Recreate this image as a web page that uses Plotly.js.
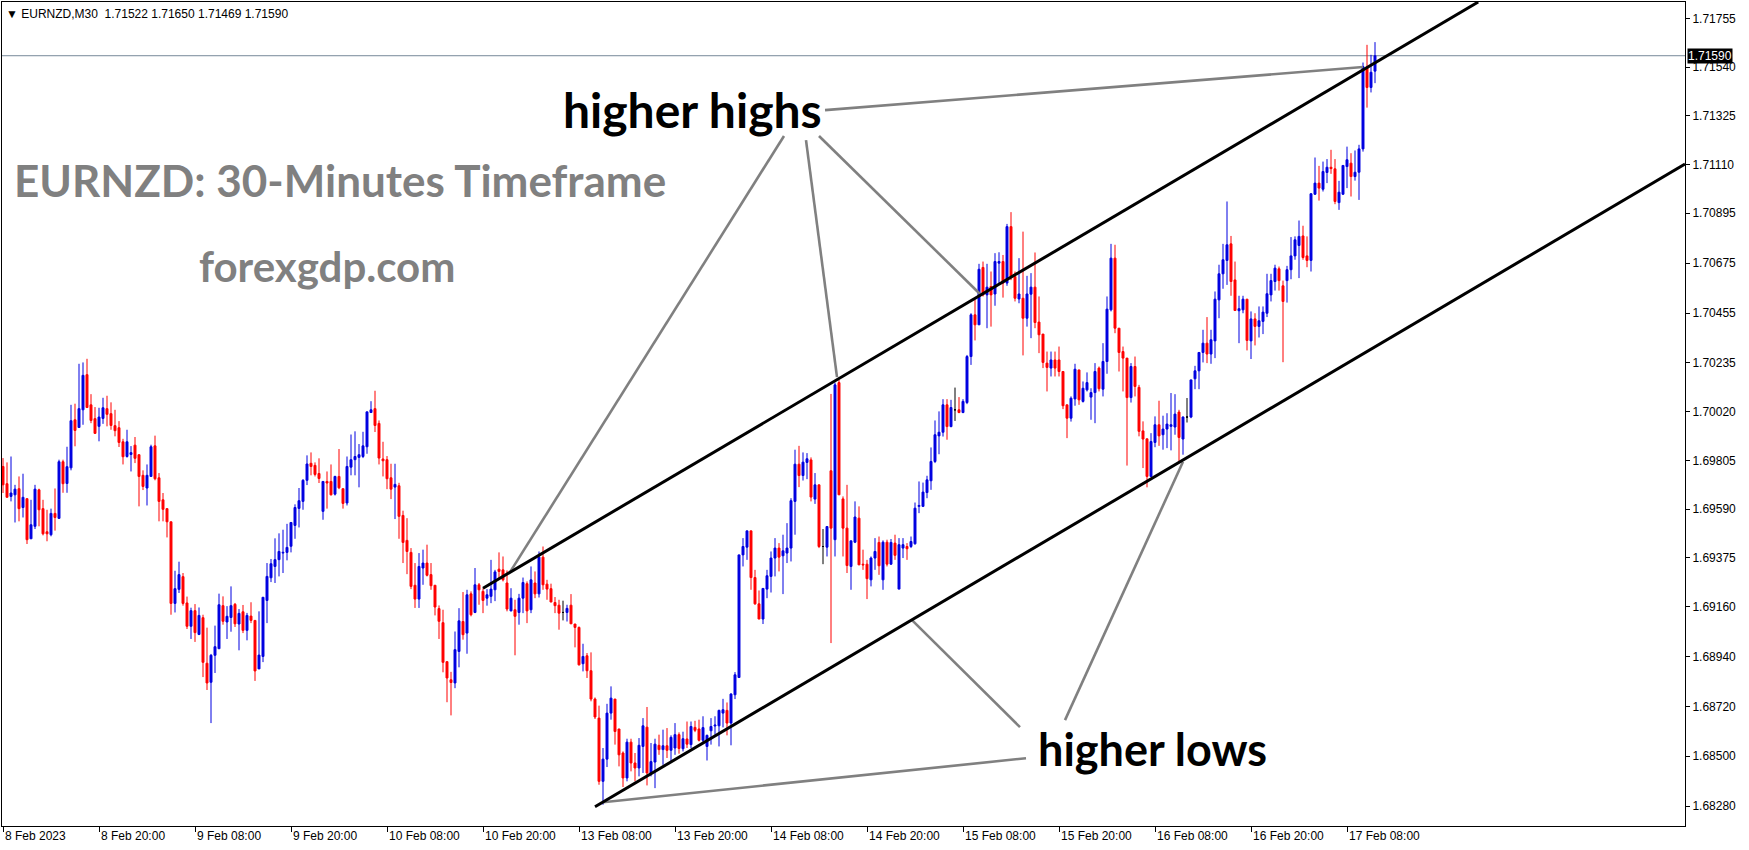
<!DOCTYPE html>
<html><head><meta charset="utf-8">
<script src="https://cdn.plot.ly/plotly-3.0.1.min.js"></script>
<style>html,body{margin:0;padding:0;background:#fff;}#chart{width:1749px;height:850px;}</style>
</head><body><div id="chart"></div>
<script>
const symbolHeader = "EURNZD,M30";

const openP = [
1.69778,1.69702,1.69646,1.69653,1.69680,1.69597,1.69636,1.69459,1.69514,1.69675,
1.69592,1.69490,1.69477,1.69571,1.69549,1.69799,1.69703,1.69772,1.69984,1.69950,
1.70028,1.70183,1.70050,1.69989,1.69955,1.69990,1.70033,1.70011,1.69958,1.69949,
1.69887,1.69822,1.69831,1.69872,1.69830,1.69739,1.69683,1.69734,1.69869,1.69728,
1.69631,1.69592,1.69534,1.69174,1.69236,1.69292,1.69176,1.69073,1.69142,1.69037,
1.69111,1.68910,1.68826,1.68945,1.68974,1.69164,1.69092,1.69112,1.69170,1.69083,
1.69137,1.69055,1.69118,1.69099,1.68885,1.68940,1.69187,1.69287,1.69337,1.69367,
1.69396,1.69399,1.69426,1.69518,1.69593,1.69624,1.69717,1.69792,1.69783,1.69747,
1.69580,1.69712,1.69712,1.69656,1.69734,1.69680,1.69617,1.69775,1.69808,1.69818,
1.69822,1.69865,1.70016,1.70033,1.69968,1.69811,1.69808,1.69728,1.69687,1.69693,
1.69562,1.69452,1.69399,1.69254,1.69193,1.69330,1.69352,1.69301,1.69254,1.69151,
1.69089,1.68917,1.68837,1.68823,1.68962,1.69094,1.69043,1.69216,1.69134,1.69256,
1.69227,1.69197,1.69205,1.69234,1.69325,1.69322,1.69264,1.69141,1.69146,1.69134,
1.69197,1.69261,1.69146,1.69264,1.69216,1.69378,1.69259,1.69239,1.69178,1.69166,
1.69134,1.69134,1.69166,1.69083,1.69068,1.68908,1.68943,1.68877,1.68752,1.68668,
1.68389,1.68487,1.68690,1.68752,1.68620,1.68514,1.68404,1.68562,1.68470,1.68448,
1.68543,1.68628,1.68423,1.68474,1.68548,1.68529,1.68546,1.68526,1.68536,1.68595,
1.68533,1.68576,1.68551,1.68627,1.68620,1.68570,1.68543,1.68612,1.68633,1.68634,
1.68690,1.68702,1.68646,1.68771,1.68847,1.69388,1.69422,1.69494,1.69288,1.69172,
1.69105,1.69237,1.69293,1.69374,1.69418,1.69384,1.69396,1.69418,1.69624,1.69788,
1.69738,1.69796,1.69807,1.69634,1.69697,1.69425,1.69422,1.69759,1.69455,1.70148,
1.69635,1.69506,1.69337,1.69444,1.69550,1.69347,1.69347,1.69278,1.69374,1.69443,
1.69278,1.69444,1.69347,1.69440,1.69237,1.69418,1.69425,1.69425,1.69437,1.69602,
1.69602,1.69663,1.69715,1.69800,1.69913,1.69929,1.70050,1.69954,1.70028,1.70028,
1.70016,1.70060,1.70263,1.70447,1.70403,1.70656,1.70535,1.70572,1.70539,1.70675,
1.70682,1.70587,1.70836,1.70616,1.70517,1.70520,1.70432,1.70538,1.70569,1.70415,
1.70362,1.70234,1.70212,1.70248,1.70248,1.70197,1.70050,1.69991,1.70076,1.70204,
1.70065,1.70116,1.70084,1.70104,1.70212,1.70119,1.70241,1.70469,1.70697,1.70388,
1.70285,1.70256,1.70082,1.70219,1.70127,1.69935,1.69900,1.69734,1.69884,1.69962,
1.69918,1.69943,1.69955,1.69952,1.70018,1.69899,1.69996,1.69996,1.70165,1.70200,
1.70281,1.70322,1.70274,1.70332,1.70513,1.70628,1.70687,1.70760,1.70601,1.70465,
1.70469,1.70516,1.70332,1.70429,1.70396,1.70418,1.70454,1.70535,1.70594,1.70650,
1.70575,1.70598,1.70646,1.70707,1.70753,1.70795,1.70707,1.70687,1.70979,1.71028,
1.71001,1.71075,1.71098,1.71091,1.70942,1.70979,1.71101,1.71116,1.71057,1.71076,
1.71179,1.71539,1.71450,1.71522];

const highP = [
1.69815,1.69796,1.69822,1.69697,1.69734,1.69746,1.69636,1.69631,1.69697,1.69680,
1.69631,1.69587,1.69592,1.69681,1.69808,1.69808,1.69865,1.70050,1.70055,1.70231,
1.70237,1.70253,1.70097,1.70040,1.70037,1.70081,1.70090,1.70061,1.70028,1.69978,
1.69900,1.69940,1.69868,1.69908,1.69830,1.69761,1.69787,1.69874,1.69914,1.69749,
1.69661,1.69592,1.69534,1.69318,1.69358,1.69308,1.69204,1.69155,1.69171,1.69156,
1.69124,1.69067,1.68951,1.69076,1.69217,1.69205,1.69162,1.69249,1.69176,1.69149,
1.69167,1.69132,1.69179,1.69099,1.69139,1.69201,1.69352,1.69370,1.69461,1.69483,
1.69499,1.69525,1.69531,1.69611,1.69683,1.69722,1.69827,1.69840,1.69796,1.69814,
1.69712,1.69756,1.69787,1.69737,1.69855,1.69680,1.69822,1.69919,1.69933,1.69877,
1.69931,1.70019,1.70066,1.70112,1.69981,1.69887,1.69824,1.69790,1.69790,1.69706,
1.69583,1.69550,1.69418,1.69352,1.69396,1.69411,1.69433,1.69352,1.69254,1.69165,
1.69146,1.68917,1.68872,1.69050,1.69153,1.69224,1.69234,1.69227,1.69330,1.69264,
1.69241,1.69237,1.69366,1.69322,1.69399,1.69381,1.69319,1.69241,1.69190,1.69216,
1.69288,1.69271,1.69337,1.69315,1.69403,1.69425,1.69278,1.69261,1.69202,1.69190,
1.69186,1.69168,1.69215,1.69083,1.69072,1.68996,1.68955,1.68958,1.68759,1.68723,
1.68536,1.68731,1.68808,1.68752,1.68620,1.68521,1.68577,1.68577,1.68514,1.68580,
1.68668,1.68717,1.68558,1.68577,1.68595,1.68617,1.68624,1.68592,1.68646,1.68605,
1.68608,1.68653,1.68653,1.68656,1.68661,1.68676,1.68595,1.68668,1.68676,1.68705,
1.68753,1.68737,1.68778,1.68871,1.69388,1.69462,1.69494,1.69494,1.69322,1.69231,
1.69240,1.69322,1.69403,1.69462,1.69440,1.69477,1.69528,1.69638,1.69852,1.69869,
1.69840,1.69837,1.69818,1.69749,1.69697,1.69502,1.69513,1.70098,1.70148,1.70160,
1.69646,1.69697,1.69450,1.69624,1.69602,1.69411,1.69366,1.69381,1.69462,1.69469,
1.69452,1.69455,1.69458,1.69477,1.69462,1.69462,1.69440,1.69469,1.69619,1.69712,
1.69707,1.69737,1.69862,1.69981,1.70021,1.70075,1.70075,1.70072,1.70126,1.70084,
1.70075,1.70270,1.70454,1.70513,1.70672,1.70682,1.70672,1.70638,1.70719,1.70723,
1.70711,1.70848,1.70900,1.70638,1.70697,1.70814,1.70619,1.70631,1.70722,1.70528,
1.70362,1.70285,1.70285,1.70285,1.70307,1.70197,1.70050,1.70087,1.70231,1.70204,
1.70153,1.70193,1.70123,1.70234,1.70219,1.70322,1.70528,1.70760,1.70756,1.70388,
1.70307,1.70256,1.70234,1.70263,1.70138,1.69977,1.69900,1.69925,1.69999,1.70068,
1.70002,1.70013,1.70102,1.70097,1.70028,1.69999,1.70080,1.70160,1.70222,1.70281,
1.70381,1.70437,1.70381,1.70550,1.70668,1.70760,1.70947,1.70795,1.70682,1.70531,
1.70531,1.70516,1.70462,1.70454,1.70484,1.70484,1.70628,1.70628,1.70668,1.70660,
1.70598,1.70663,1.70790,1.70793,1.70863,1.70840,1.70793,1.70984,1.71141,1.71104,
1.71123,1.71134,1.71175,1.71134,1.71038,1.71106,1.71189,1.71160,1.71172,1.71197,
1.71560,1.71638,1.71594,1.71650];

const lowP = [
1.69661,1.69642,1.69624,1.69531,1.69536,1.69553,1.69436,1.69459,1.69502,1.69514,
1.69474,1.69448,1.69470,1.69495,1.69549,1.69662,1.69662,1.69761,1.69867,1.69950,
1.69962,1.70036,1.69969,1.69924,1.69889,1.69966,1.69955,1.69940,1.69911,1.69864,
1.69787,1.69817,1.69756,1.69793,1.69602,1.69674,1.69606,1.69734,1.69717,1.69536,
1.69536,1.69465,1.69124,1.69134,1.69220,1.69164,1.69061,1.69017,1.69004,1.69034,
1.68849,1.68792,1.68646,1.68867,1.68974,1.69080,1.69017,1.69049,1.69070,1.68967,
1.69043,1.69011,1.69087,1.68832,1.68885,1.68915,1.69087,1.69268,1.69264,1.69293,
1.69308,1.69364,1.69399,1.69459,1.69509,1.69587,1.69696,1.69739,1.69734,1.69705,
1.69543,1.69592,1.69650,1.69650,1.69678,1.69592,1.69606,1.69739,1.69739,1.69686,
1.69815,1.69834,1.70014,1.69930,1.69787,1.69734,1.69678,1.69634,1.69546,1.69459,
1.69352,1.69303,1.69237,1.69154,1.69154,1.69256,1.69293,1.69234,1.69121,1.69017,
1.68870,1.68738,1.68680,1.68800,1.68892,1.69014,1.68952,1.69117,1.69131,1.69168,
1.69131,1.69164,1.69175,1.69184,1.69278,1.69271,1.69139,1.69139,1.68945,1.69080,
1.69131,1.69087,1.69131,1.69197,1.69200,1.69234,1.69190,1.69180,1.69131,1.69058,
1.69099,1.69094,1.69084,1.68980,1.68900,1.68874,1.68845,1.68742,1.68664,1.68374,
1.68286,1.68452,1.68661,1.68551,1.68455,1.68364,1.68389,1.68433,1.68389,1.68411,
1.68426,1.68371,1.68411,1.68359,1.68506,1.68462,1.68492,1.68477,1.68506,1.68511,
1.68521,1.68536,1.68536,1.68606,1.68565,1.68562,1.68481,1.68551,1.68595,1.68543,
1.68627,1.68592,1.68548,1.68752,1.68847,1.69337,1.69366,1.69234,1.69168,1.69105,
1.69083,1.69197,1.69222,1.69293,1.69315,1.69215,1.69352,1.69359,1.69477,1.69687,
1.69716,1.69722,1.69624,1.69613,1.69418,1.69347,1.69381,1.68999,1.69381,1.69653,
1.69381,1.69308,1.69234,1.69440,1.69344,1.69322,1.69193,1.69249,1.69322,1.69300,
1.69234,1.69337,1.69344,1.69366,1.69237,1.69374,1.69366,1.69418,1.69433,1.69572,
1.69599,1.69638,1.69675,1.69793,1.69832,1.69910,1.69896,1.69951,1.69979,1.70013,
1.70013,1.70053,1.70226,1.70334,1.70403,1.70528,1.70388,1.70395,1.70487,1.70587,
1.70523,1.70575,1.70600,1.70506,1.70498,1.70268,1.70395,1.70344,1.70388,1.70278,
1.70212,1.70109,1.70175,1.70175,1.70175,1.70031,1.69903,1.69976,1.70046,1.70050,
1.70060,1.70109,1.69984,1.69969,1.70109,1.70087,1.70187,1.70462,1.70366,1.70197,
1.70109,1.69782,1.70060,1.70087,1.69911,1.69771,1.69686,1.69731,1.69863,1.69869,
1.69852,1.69859,1.69849,1.69918,1.69800,1.69830,1.69972,1.69991,1.70119,1.70119,
1.70237,1.70234,1.70231,1.70256,1.70432,1.70562,1.70579,1.70531,1.70466,1.70322,
1.70454,1.70290,1.70252,1.70312,1.70347,1.70362,1.70437,1.70506,1.70554,1.70554,
1.70238,1.70501,1.70604,1.70690,1.70609,1.70690,1.70657,1.70638,1.70976,1.70951,
1.70991,1.71028,1.71069,1.70935,1.70910,1.70976,1.71006,1.70969,1.71039,1.70954,
1.71167,1.71361,1.71428,1.71469];

const closeP = [
1.69697,1.69642,1.69661,1.69678,1.69592,1.69642,1.69455,1.69521,1.69678,1.69587,
1.69481,1.69481,1.69571,1.69553,1.69799,1.69702,1.69777,1.69980,1.69937,1.70033,
1.70180,1.70038,1.69981,1.69924,1.69996,1.70037,1.70008,1.69959,1.69936,1.69884,
1.69821,1.69887,1.69839,1.69814,1.69734,1.69690,1.69739,1.69865,1.69724,1.69624,
1.69589,1.69534,1.69174,1.69239,1.69301,1.69174,1.69073,1.69142,1.69045,1.69121,
1.68914,1.68823,1.68945,1.68983,1.69168,1.69095,1.69117,1.69164,1.69084,1.69130,
1.69055,1.69121,1.69099,1.68876,1.68946,1.69201,1.69293,1.69349,1.69367,1.69403,
1.69399,1.69421,1.69531,1.69597,1.69627,1.69717,1.69789,1.69778,1.69743,1.69725,
1.69712,1.69705,1.69653,1.69734,1.69684,1.69615,1.69778,1.69808,1.69822,1.69830,
1.69869,1.70019,1.70028,1.69959,1.69815,1.69803,1.69724,1.69678,1.69699,1.69558,
1.69443,1.69403,1.69249,1.69193,1.69337,1.69352,1.69298,1.69252,1.69158,1.69095,
1.68914,1.68845,1.68825,1.68970,1.69097,1.69036,1.69212,1.69124,1.69256,1.69234,
1.69187,1.69212,1.69237,1.69313,1.69315,1.69278,1.69149,1.69197,1.69117,1.69197,
1.69266,1.69141,1.69278,1.69216,1.69378,1.69256,1.69237,1.69180,1.69164,1.69131,
1.69134,1.69152,1.69084,1.69068,1.68903,1.68940,1.68877,1.68752,1.68673,1.68389,
1.68487,1.68690,1.68756,1.68609,1.68506,1.68404,1.68562,1.68470,1.68448,1.68548,
1.68634,1.68426,1.68476,1.68553,1.68529,1.68546,1.68526,1.68583,1.68595,1.68534,
1.68577,1.68553,1.68631,1.68614,1.68570,1.68626,1.68592,1.68631,1.68637,1.68702,
1.68705,1.68646,1.68774,1.68859,1.69388,1.69425,1.69494,1.69288,1.69172,1.69105,
1.69240,1.69296,1.69374,1.69418,1.69378,1.69406,1.69418,1.69627,1.69788,1.69738,
1.69797,1.69812,1.69643,1.69697,1.69425,1.69425,1.69513,1.69506,1.70138,1.69653,
1.69506,1.69341,1.69450,1.69555,1.69344,1.69344,1.69283,1.69374,1.69403,1.69340,
1.69444,1.69347,1.69443,1.69386,1.69433,1.69433,1.69415,1.69447,1.69594,1.69606,
1.69665,1.69719,1.69800,1.69918,1.69929,1.70050,1.69954,1.70038,1.70028,1.70016,
1.70065,1.70263,1.70447,1.70403,1.70648,1.70535,1.70569,1.70535,1.70682,1.70682,
1.70587,1.70836,1.70616,1.70520,1.70539,1.70432,1.70539,1.70569,1.70413,1.70359,
1.70237,1.70215,1.70248,1.70212,1.70197,1.70046,1.69991,1.70079,1.70207,1.70072,
1.70123,1.70148,1.70104,1.70197,1.70121,1.70241,1.70472,1.70697,1.70388,1.70281,
1.70256,1.70082,1.70219,1.70131,1.69933,1.69899,1.69734,1.69888,1.69962,1.69913,
1.69943,1.69965,1.69962,1.70009,1.69906,1.69996,1.69996,1.70160,1.70200,1.70281,
1.70322,1.70274,1.70337,1.70516,1.70628,1.70690,1.70756,1.70594,1.70466,1.70474,
1.70516,1.70334,1.70429,1.70396,1.70421,1.70459,1.70540,1.70598,1.70653,1.70598,
1.70506,1.70646,1.70707,1.70778,1.70793,1.70700,1.70687,1.70981,1.71028,1.71006,
1.71079,1.71098,1.71092,1.70947,1.70988,1.71106,1.71131,1.71057,1.71076,1.71179,
1.71542,1.71450,1.71517,1.71590];

// time-scale labels (every 24 bars of 30 minutes)
const timeTickBars = [0,24,48,72,96,120,144,168,192,216,240,264,288,312,336];
const timeTickLabels = ["8 Feb 2023","8 Feb 20:00","9 Feb 08:00","9 Feb 20:00","10 Feb 08:00","10 Feb 20:00",
  "13 Feb 08:00","13 Feb 20:00","14 Feb 08:00","14 Feb 20:00","15 Feb 08:00","15 Feb 20:00",
  "16 Feb 08:00","16 Feb 20:00","17 Feb 08:00"];
const priceTicks = [1.71755,1.71540,1.71325,1.71110,1.70895,1.70675,1.70455,1.70235,1.70020,
  1.69805,1.69590,1.69375,1.69160,1.68940,1.68720,1.68500,1.68280];

// channel lines: [bar index, price]
const upperChannelBars = [120, 368.8];
const upperChannelPrices = [1.69241, 1.71827];
const lowerChannelBars = [148, 420.5];
const lowerChannelPrices = [1.68277, 1.71112];

// pointer lines from the labels
const highPointerBars = [[205.5, 340], [195.25, 126.75], [200.75, 208.5], [204, 244.25]];
const highPointerPrices = [[1.71350, 1.71540], [1.71236, 1.69312], [1.71218, 1.70172], [1.71236, 1.70539]];
const lowPointerBars = [[255.75, 150], [254.25, 227.25], [265.5, 295]];
const lowPointerPrices = [[1.68491, 1.68297], [1.68628, 1.69100], [1.68659, 1.69799]];

const BLUE = '#0000E0', RED = '#FF0000';
const n = closeP.length;
const groups = {up: [], down: [], doji: []};
for (let i = 0; i < n; i++) {
  if (closeP[i] > openP[i]) groups.up.push(i);
  else if (closeP[i] < openP[i]) groups.down.push(i);
  else groups.doji.push(i);
}
function candleTrace(idx, color) {
  return {
    type: 'candlestick',
    x: idx, open: idx.map(i => openP[i]), high: idx.map(i => highP[i]),
    low: idx.map(i => lowP[i]), close: idx.map(i => closeP[i]),
    increasing: {line: {color: color, width: 1}, fillcolor: color},
    decreasing: {line: {color: color, width: 1}, fillcolor: color},
    whiskerwidth: 0, hoverinfo: 'skip', showlegend: false
  };
}
const traces = [
  candleTrace(groups.up, BLUE),
  candleTrace(groups.down, RED),
  candleTrace(groups.doji, '#000000')
];
function lineTrace(xs, ys, color, width) {
  return {type: 'scatter', mode: 'lines', x: xs, y: ys, line: {color: color, width: width},
    hoverinfo: 'skip', showlegend: false, cliponaxis: true};
}
highPointerBars.forEach((b, k) => traces.push(lineTrace(b, highPointerPrices[k], '#808080', 2.6)));
lowPointerBars.forEach((b, k) => traces.push(lineTrace(b, lowPointerPrices[k], '#808080', 2.6)));
traces.push(lineTrace(upperChannelBars, upperChannelPrices, '#000000', 3));
traces.push(lineTrace(lowerChannelBars, lowerChannelPrices, '#000000', 3));

const last = n - 1;
const axisFont = {family: 'Liberation Sans, Arial, sans-serif', size: 12, color: '#000000'};
const annotations = [];
timeTickBars.forEach((b, k) => annotations.push({
  x: b, xref: 'x', y: 0, yref: 'paper', text: timeTickLabels[k], showarrow: false,
  xanchor: 'left', yanchor: 'top', xshift: 0, yshift: -1, font: axisFont
}));
annotations.push({
  x: 0, xref: 'paper', y: 1, yref: 'paper', xanchor: 'left', yanchor: 'top', xshift: 2, yshift: -3,
  showarrow: false, bgcolor: '#ffffff', font: axisFont,
  text: '\u25BC\u00a0' + symbolHeader + '\u00a0\u00a0' + openP[last].toFixed(5) + ' ' + highP[last].toFixed(5) + ' ' +
        lowP[last].toFixed(5) + ' ' + closeP[last].toFixed(5)
});
annotations.push({
  x: 1, xref: 'paper', y: closeP[last], yref: 'y', xanchor: 'left', yanchor: 'middle', xshift: 2,
  showarrow: false, bgcolor: '#000000', borderpad: 0,
  font: {family: 'Liberation Sans, Arial, sans-serif', size: 12, color: '#ffffff'},
  text: closeP[last].toFixed(5)
});
const bigGray = {family: 'Lato, Open Sans, sans-serif', size: 44, color: '#808080', weight: 'bold'};
annotations.push({x: 84.25, y: 1.71043, xref: 'x', yref: 'y', text: 'EURNZD: 30-Minutes Timeframe',
  showarrow: false, xanchor: 'center', yanchor: 'middle', font: bigGray});
annotations.push({x: 81.1, y: 1.70664, xref: 'x', yref: 'y', text: 'forexgdp.com',
  showarrow: false, xanchor: 'center', yanchor: 'middle', font: Object.assign({}, bigGray, {size: 42})});
const bigBlack = {family: 'Lato, Open Sans, sans-serif', size: 45, color: '#000000', weight: 'bold'};
annotations.push({x: 172.4, y: 1.71354, xref: 'x', yref: 'y', text: 'higher highs',
  showarrow: false, xanchor: 'center', yanchor: 'middle', font: Object.assign({}, bigBlack, {size: 48})});
annotations.push({x: 287.25, y: 1.68530, xref: 'x', yref: 'y', text: 'higher lows',
  showarrow: false, xanchor: 'center', yanchor: 'middle', font: bigBlack});

const layout = {
  width: 1749, height: 850,
  margin: {l: 2, r: 64, t: 2, b: 24, pad: 0},
  paper_bgcolor: '#ffffff', plot_bgcolor: '#ffffff',
  showlegend: false, dragmode: false,
  xaxis: {
    type: 'linear', range: [-0.25, 420.5], rangeslider: {visible: false},
    showgrid: false, zeroline: false, showline: true, linecolor: '#000000', linewidth: 1, mirror: true,
    ticks: 'outside', ticklen: 5, tickcolor: '#000000', tickwidth: 1,
    tickmode: 'array', tickvals: timeTickBars, showticklabels: false, fixedrange: true
  },
  yaxis: {
    side: 'right', range: [1.68192, 1.71827],
    showgrid: false, zeroline: false, showline: true, linecolor: '#000000', linewidth: 1, mirror: true,
    ticks: 'outside', ticklen: 4, tickcolor: '#000000', tickwidth: 1,
    tickmode: 'array', tickvals: priceTicks, ticktext: priceTicks.map(v => v.toFixed(5)),
    tickfont: axisFont, fixedrange: true
  },
  shapes: [{
    type: 'line', xref: 'paper', x0: 0, x1: 1, yref: 'y', y0: closeP[last], y1: closeP[last],
    line: {color: '#778899', width: 1}, layer: 'below'
  }],
  annotations: annotations
};
Plotly.newPlot('chart', traces, layout, {staticPlot: true, displayModeBar: false});
</script>
</body></html>
